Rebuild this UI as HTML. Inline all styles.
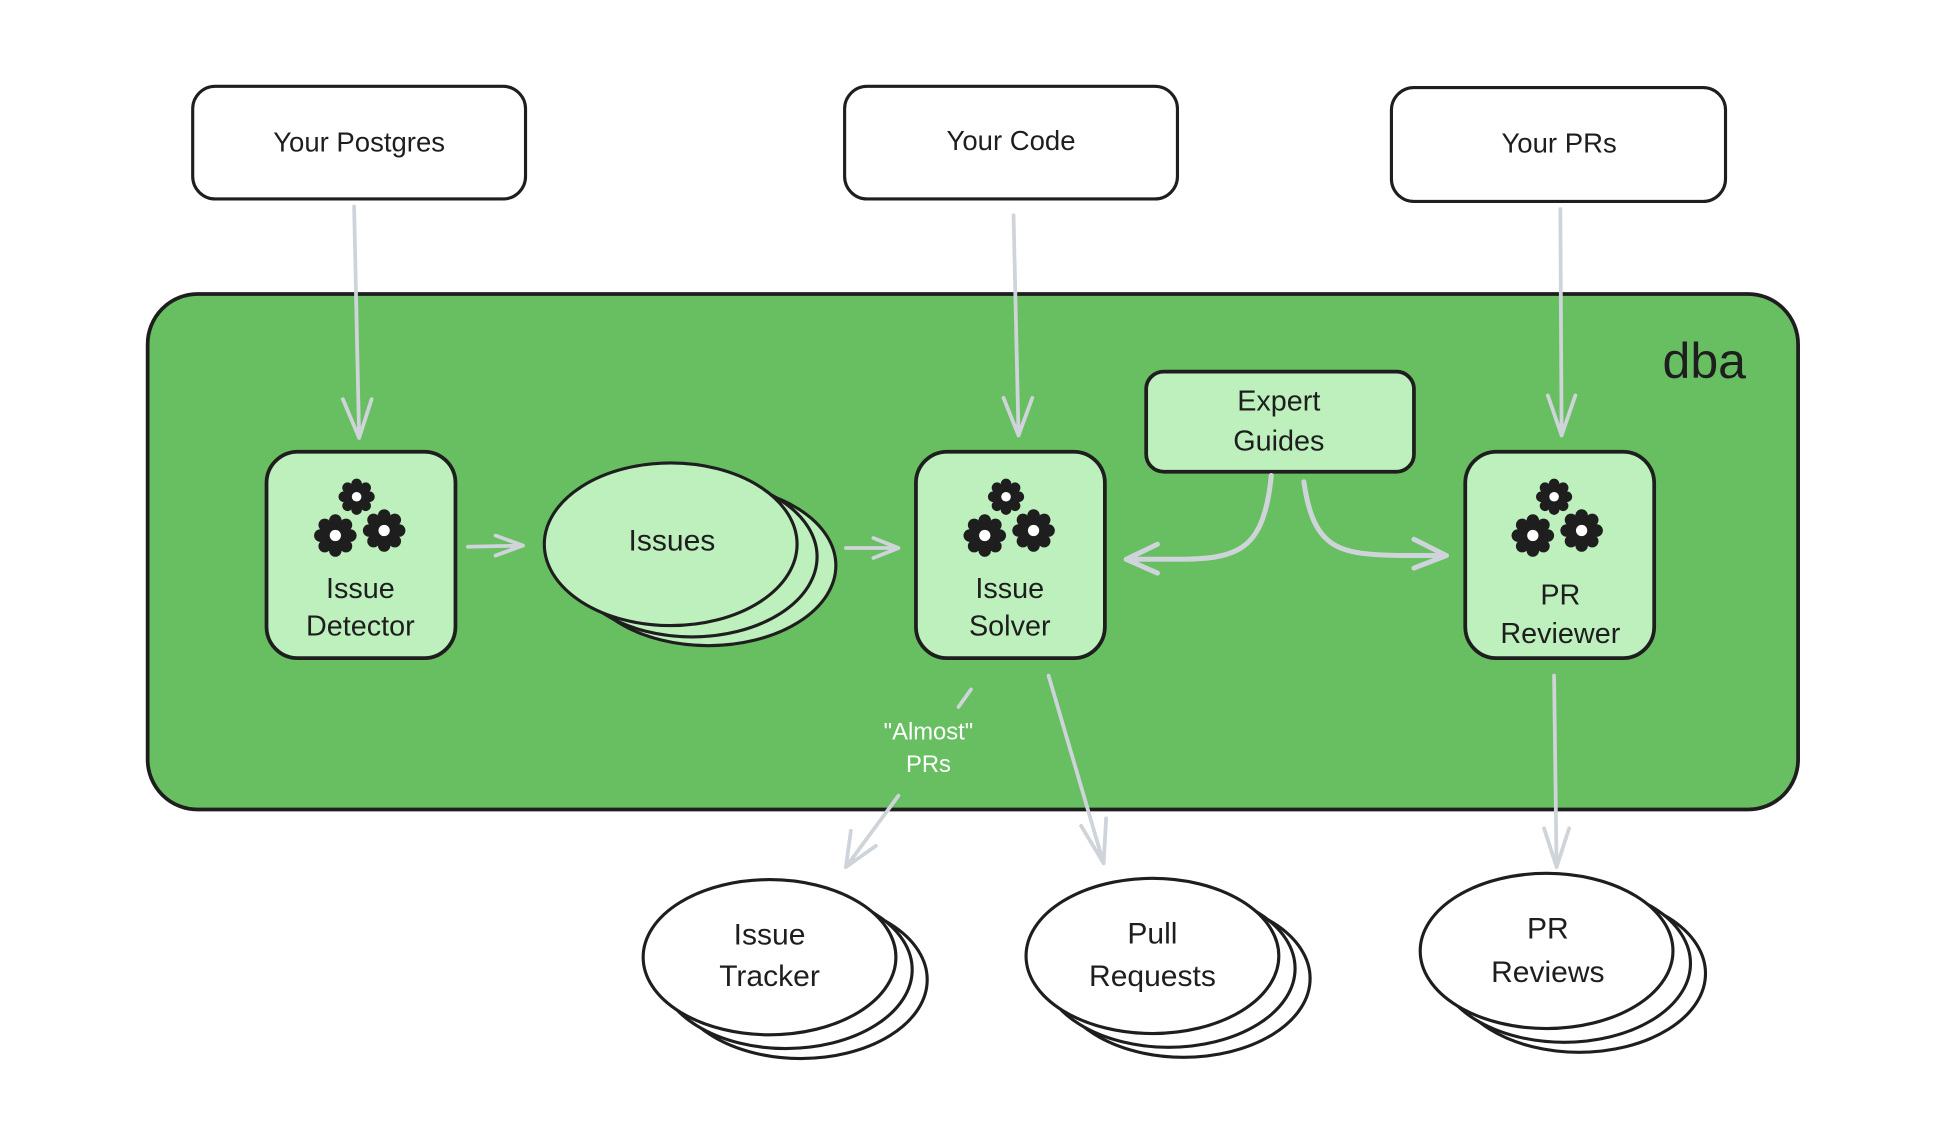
<!DOCTYPE html>
<html><head><meta charset="utf-8">
<style>
html,body{margin:0;padding:0;background:#fff;}
svg{display:block;}
text{font-family:"Liberation Sans",sans-serif;fill:#1e1e1e;}
</style></head>
<body>
<svg width="1952" height="1134" viewBox="0 0 1560 906.3" preserveAspectRatio="none" xmlns="http://www.w3.org/2000/svg">
<defs>
<g id="gear">
<circle r="12" fill="#1e1e1e"/>
<circle cx="12" cy="0" r="5" fill="#1e1e1e"/><circle cx="-12" cy="0" r="5" fill="#1e1e1e"/>
<circle cx="0" cy="12" r="5" fill="#1e1e1e"/><circle cx="0" cy="-12" r="5" fill="#1e1e1e"/>
<circle cx="8.5" cy="8.5" r="5" fill="#1e1e1e"/><circle cx="-8.5" cy="8.5" r="5" fill="#1e1e1e"/>
<circle cx="8.5" cy="-8.5" r="5" fill="#1e1e1e"/><circle cx="-8.5" cy="-8.5" r="5" fill="#1e1e1e"/>
<circle r="4.5" fill="#fff"/>
</g>
<g id="gears">
<use href="#gear" transform="translate(0,-14) scale(0.85)"/>
<use href="#gear" transform="translate(-17,17)"/>
<use href="#gear" transform="translate(22,13)"/>
</g>
</defs>
<rect width="1560" height="907" fill="#fff"/>

<!-- top boxes -->
<g fill="#fff" stroke="#1e1e1e" stroke-width="2.5">
<rect x="154" y="69" width="266" height="90" rx="18"/>
<rect x="675" y="69" width="266" height="90" rx="18"/>
<rect x="1112" y="70" width="267" height="91" rx="18"/>
</g>
<text x="287" y="121" font-size="22" text-anchor="middle">Your Postgres</text>
<text x="808" y="120" font-size="22" text-anchor="middle">Your Code</text>
<text x="1246" y="122" font-size="22" text-anchor="middle">Your PRs</text>

<!-- container -->
<rect x="118" y="235" width="1319" height="412" rx="40" fill="#68bf62" stroke="#1e1e1e" stroke-width="3"/>
<text x="1362" y="302" font-size="40" text-anchor="middle">dba</text>

<!-- inner boxes -->
<g fill="#bdf0bd" stroke="#1e1e1e" stroke-width="3">
<rect x="213" y="361" width="151" height="165" rx="25"/>
<rect x="732" y="361" width="151" height="165" rx="25"/>
<rect x="1171" y="361" width="151" height="165" rx="25"/>
<rect x="916" y="297" width="214" height="80" rx="14"/>
</g>
<use href="#gears" transform="translate(285,411)"/>
<use href="#gears" transform="translate(804,411)"/>
<use href="#gears" transform="translate(1242,411)"/>
<g font-size="23" text-anchor="middle">
<text x="288" y="478">Issue</text><text x="288" y="508">Detector</text>
<text x="807" y="478">Issue</text><text x="807" y="508">Solver</text>
<text x="1247" y="483">PR</text><text x="1247" y="514">Reviewer</text>
<text x="1022" y="328">Expert</text><text x="1022" y="360">Guides</text>
</g>

<!-- Issues stack -->
<g fill="#bdf0bd" stroke="#1e1e1e" stroke-width="2.5">
<ellipse cx="566" cy="452" rx="102" ry="64"/>
<ellipse cx="553" cy="445" rx="100" ry="64"/>
<ellipse cx="536" cy="435" rx="101" ry="65"/>
</g>
<text x="537" y="440" font-size="24" text-anchor="middle">Issues</text>

<!-- bottom stacks -->
<g fill="#fff" stroke="#1e1e1e" stroke-width="2.5">
<ellipse cx="640" cy="783" rx="101" ry="63"/><ellipse cx="628" cy="775" rx="101" ry="63"/><ellipse cx="615" cy="765" rx="101" ry="62"/>
<ellipse cx="946" cy="782" rx="101" ry="63"/><ellipse cx="934" cy="774" rx="101" ry="63"/><ellipse cx="921" cy="764" rx="101" ry="62"/>
<ellipse cx="1262" cy="778" rx="101" ry="63"/><ellipse cx="1250" cy="770" rx="101" ry="63"/><ellipse cx="1236" cy="760" rx="101" ry="62"/>
</g>
<g font-size="24" text-anchor="middle">
<text x="615" y="755">Issue</text><text x="615" y="788">Tracker</text>
<text x="921" y="754">Pull</text><text x="921" y="788">Requests</text>
<text x="1237" y="750">PR</text><text x="1237" y="785">Reviews</text>
</g>

<!-- arrows -->
<g fill="none" stroke="#ced4da" stroke-width="3" stroke-linecap="round" stroke-linejoin="round">
<path d="M283 165 L287 350 M274 319 L287 350 L297 319"/>
<path d="M810 172 L814 348 M802 318 L814 348 L825 318"/>
<path d="M1247 167 L1248 348 M1237 316 L1248 348 L1259 316"/>
<path d="M374 437 L418 436 M396 428 L418 436 L396 444"/>
<path d="M676 438 L718 438 M698 430 L718 438 L698 446"/>
<path d="M1016 380 C1010 440 990 447 940 447 L900 447 M925 435 L900 447 L925 458" stroke-width="4"/>
<path d="M1042 385 C1050 440 1070 443 1120 444 L1156 444 M1130 431 L1156 444 L1130 454" stroke-width="4"/>
<path d="M838 540 L882 690 M864 660 L882 690 L884 654"/>
<path d="M1242 540 L1244 693 M1234 662 L1244 693 L1254 662"/>
<path d="M776 551 L766 565"/>
<path d="M718 636 L676 693 M680 664 L676 693 L700 676"/>
</g>
<g font-size="19" text-anchor="middle" style="fill:#fff">
<text x="742" y="591" style="fill:#fff">"Almost"</text>
<text x="742" y="617" style="fill:#fff">PRs</text>
</g>
</svg>
</body></html>
